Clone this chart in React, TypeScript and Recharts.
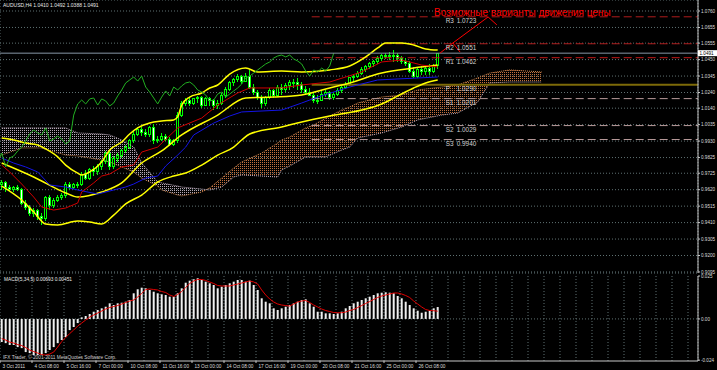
import React from 'react';
import {
  ComposedChart, Bar, Line, Area, XAxis, YAxis, CartesianGrid, ReferenceLine, ReferenceDot,
} from 'recharts';

// ---------------- DATA ----------------
const SYMBOL = 'AUDUSD,H4';
const TIME_LABELS = [
  '3 Oct 2011', '4 Oct 08:00', '5 Oct 16:00', '7 Oct 00:00', '10 Oct 08:00', '11 Oct 16:00',
  '13 Oct 00:00', '14 Oct 08:00', '17 Oct 16:00', '19 Oct 00:00', '20 Oct 08:00', '21 Oct 16:00',
  '25 Oct 00:00', '26 Oct 08:00',
];
const TIME_LABEL_STEP = 8; // bars between time labels

// OHLC, price x 10 000
const OPEN = [
  9650, 9663, 9631, 9624, 9637, 9618, 9535, 9509, 9471, 9490,
  9452, 9439, 9567, 9516, 9554, 9573, 9586, 9656, 9637, 9650,
  9656, 9714, 9694, 9746, 9733, 9771, 9797, 9854, 9765, 9822,
  9835, 9867, 9892, 9931, 9975, 10001, 9982, 9969, 10014, 9931,
  9943, 9962, 9943, 9911, 9931, 10096, 10167, 10192, 10167, 10199,
  10205, 10160, 10199, 10186, 10154, 10173, 10218, 10256, 10301, 10320,
  10339, 10313, 10345, 10275, 10243, 10205, 10167, 10211, 10250, 10218,
  10275, 10256, 10282, 10301, 10307, 10288, 10256, 10243, 10224, 10186,
  10192, 10230, 10243, 10211, 10230, 10250, 10269, 10294, 10333, 10345,
  10364, 10384, 10403, 10422, 10435, 10460, 10473, 10479, 10467, 10479,
  10454, 10441, 10422, 10377, 10345, 10384, 10371, 10396, 10377, 10410,
];
const HIGH = [
  9682, 9675, 9650, 9643, 9650, 9631, 9554, 9522, 9503, 9497,
  9471, 9580, 9586, 9567, 9586, 9599, 9669, 9669, 9663, 9669,
  9733, 9746, 9758, 9771, 9784, 9809, 9867, 9867, 9835, 9854,
  9880, 9905, 9943, 10001, 10020, 10020, 10007, 10026, 10039, 9962,
  9982, 9975, 9956, 9943, 10116, 10186, 10205, 10211, 10205, 10218,
  10218, 10211, 10211, 10199, 10192, 10237, 10275, 10313, 10333, 10358,
  10352, 10364, 10384, 10294, 10256, 10224, 10218, 10269, 10262, 10288,
  10294, 10301, 10320, 10326, 10333, 10307, 10282, 10269, 10243, 10224,
  10250, 10256, 10250, 10243, 10269, 10282, 10307, 10339, 10358, 10377,
  10403, 10415, 10435, 10447, 10473, 10486, 10492, 10498, 10511, 10492,
  10473, 10460, 10441, 10403, 10396, 10409, 10415, 10422, 10422, 10492,
];
const LOW = [
  9618, 9605, 9612, 9605, 9612, 9522, 9490, 9452, 9446, 9427,
  9395, 9420, 9490, 9503, 9541, 9554, 9567, 9618, 9624, 9631,
  9643, 9682, 9682, 9707, 9714, 9746, 9784, 9746, 9752, 9797,
  9822, 9854, 9880, 9918, 9962, 9962, 9956, 9956, 9911, 9918,
  9931, 9931, 9899, 9899, 9918, 10084, 10154, 10154, 10160, 10173,
  10141, 10154, 10154, 10128, 10135, 10160, 10205, 10250, 10282, 10307,
  10294, 10307, 10262, 10224, 10192, 10141, 10154, 10199, 10205, 10211,
  10224, 10243, 10256, 10269, 10256, 10237, 10224, 10218, 10173, 10167,
  10186, 10211, 10192, 10192, 10218, 10237, 10262, 10282, 10307, 10333,
  10352, 10371, 10390, 10403, 10422, 10441, 10454, 10447, 10435, 10435,
  10422, 10409, 10364, 10333, 10333, 10352, 10352, 10352, 10364, 10388,
];
const CLOSE = [
  9663, 9631, 9624, 9637, 9618, 9535, 9509, 9471, 9490, 9452,
  9439, 9567, 9516, 9554, 9573, 9586, 9656, 9637, 9650, 9656,
  9714, 9694, 9746, 9733, 9771, 9797, 9854, 9765, 9822, 9835,
  9867, 9892, 9931, 9975, 10001, 9982, 9969, 10014, 9931, 9943,
  9962, 9943, 9911, 9931, 10096, 10167, 10192, 10167, 10199, 10205,
  10160, 10199, 10186, 10154, 10173, 10218, 10256, 10301, 10320, 10339,
  10313, 10345, 10275, 10243, 10205, 10167, 10211, 10250, 10218, 10275,
  10256, 10282, 10301, 10307, 10288, 10256, 10243, 10224, 10186, 10192,
  10230, 10243, 10211, 10230, 10250, 10269, 10294, 10333, 10345, 10364,
  10384, 10403, 10422, 10435, 10460, 10473, 10479, 10467, 10479, 10454,
  10441, 10422, 10377, 10345, 10384, 10371, 10396, 10377, 10409, 10491,
];

// Indicator lines: [bar, price x 10 000]
const TENKAN_PTS: [number, number][] = [
  [0, 9777], [2, 9733], [5, 9656], [8, 9573], [10, 9509], [13, 9490], [16, 9503], [19, 9535],
  [20, 9605], [23, 9663], [25, 9707], [27, 9720], [30, 9765], [33, 9777], [35, 9860], [39, 9892],
  [44, 10014], [50, 10077], [54, 10160], [59, 10237], [62, 10269], [70, 10269], [75, 10288],
  [82, 10307], [90, 10371], [95, 10435], [100, 10447], [102, 10435], [105, 10415], [109, 10403],
];
const KIJUN_PTS: [number, number][] = [
  [0, 9822], [3, 9790], [6, 9765], [9, 9733], [12, 9650], [16, 9637], [19, 9618], [24, 9592],
  [28, 9618], [31, 9637], [33, 9656], [36, 9694], [39, 9707], [41, 9771], [44, 9841], [46, 9892],
  [48, 9969], [53, 10045], [57, 10090], [60, 10116], [70, 10128], [75, 10173], [79, 10211],
  [87, 10275], [94, 10320], [109, 10339],
];
const BB_UPPER_PTS: [number, number][] = [
  [0, 9950], [3, 9937], [6, 9918], [9, 9905], [11, 9880], [14, 9829], [16, 9777], [19, 9726],
  [20, 9714], [22, 9733], [25, 9797], [27, 9873], [30, 9924], [32, 9975], [34, 10014], [37, 10045],
  [40, 10058], [43, 10065], [44, 10084], [45, 10160], [47, 10211], [50, 10237], [52, 10269],
  [54, 10288], [57, 10358], [61, 10396], [64, 10371], [70, 10377], [75, 10371], [82, 10384],
  [87, 10409], [91, 10467], [94, 10524], [96, 10556], [100, 10556], [103, 10543], [106, 10518],
  [109, 10511],
];
const BB_MID_PTS: [number, number][] = [
  [0, 9790], [8, 9701], [16, 9599], [19, 9573], [25, 9605], [30, 9663], [35, 9790], [40, 9867],
  [45, 9969], [54, 10096], [61, 10205], [68, 10211], [75, 10224], [82, 10269], [87, 10301],
  [95, 10364], [103, 10396], [109, 10415],
];
const BB_LOWER_PTS: [number, number][] = [
  [0, 9643], [5, 9554], [8, 9478], [11, 9401], [14, 9395], [19, 9420], [22, 9414], [25, 9401],
  [28, 9458], [31, 9529], [35, 9586], [39, 9669], [43, 9707], [46, 9726], [50, 9777], [54, 9841],
  [58, 9892], [60, 9937], [62, 9975], [70, 10020], [75, 10052], [82, 10090], [90, 10128],
  [95, 10167], [99, 10218], [103, 10269], [106, 10301], [109, 10320],
];
const CHIKOU_SHIFT = 26;

// Ichimoku cloud (projected 26 bars ahead), price x 10 000
const CLOUD_BARS = [0, 5, 10, 16, 19, 25, 27, 30, 33, 35, 39, 40, 44, 45, 50, 52, 55, 58, 60, 65, 69, 70, 72, 76, 78, 81, 85, 87, 89, 95, 100, 104, 110, 114, 119, 122, 127, 135];
const SPAN_A = [9841, 9886, 9886, 9841, 9835, 9809, 9797, 9765, 9733, 9694, 9643, 9618, 9586, 9580, 9605, 9631, 9694, 9758, 9797, 9854, 9918, 9937, 9956, 10014, 10033, 10077, 10128, 10148, 10173, 10211, 10224, 10256, 10275, 10288, 10333, 10364, 10384, 10371];
const SPAN_B = [10014, 10014, 10014, 10014, 9982, 9975, 9969, 9937, 9892, 9790, 9669, 9663, 9643, 9637, 9624, 9618, 9637, 9701, 9714, 9707, 9701, 9746, 9771, 9829, 9829, 9829, 9873, 9892, 9950, 9982, 10020, 10065, 10096, 10109, 10179, 10301, 10307, 10307];

const PRICE_TICKS = [1.076, 1.0655, 1.0555, 1.045, 1.0345, 1.024, 1.014, 1.0035, 0.993, 0.9825, 0.9725, 0.962, 0.9515, 0.941, 0.9305, 0.92, 0.9095];

const PIVOT_NAMES = ['R3', 'R2', 'R1', 'P', 'S1', 'S2', 'S3'];
const PIVOT_VALUES = [1.0723, 1.0551, 1.0462, 1.029, 1.0201, 1.0029, 0.994];
const PIVOT_START_BAR = 78;
const PIVOT_LABEL_BAR = 111;

const NOTE_TEXT = 'Возможные варианты движения цены';
const NOTE_AT = { bar: 108.1, price: 1.0731 };
const NOTE_PATHS: [number, number][][] = [
  [[109.6, 1.0492], [112.8, 1.0556], [114.6, 1.0498]],
  [[112.8, 1.0556], [121.6, 1.0722], [123.8, 1.0671]],
];

// MACD(5,34,5), values x 0.001
const MACD_HIST = [
  -13.5, -14.1, -15.2, -15.2, -16.4, -17.0, -19.3, -19.9, -21.0, -21.0,
  -21.0, -19.9, -18.1, -16.4, -14.1, -12.3, -10.6, -6.5, -4.7, -2.4,
  0.93, 1.69, 2.86, 4.2, 5.19, 6.18, 7.11, 9.09, 8.1, 9.09,
  9.44, 10.03, 11.02, 14.92, 17.26, 18.19, 17.84, 16.85, 15.86, 14.92,
  14.34, 13.93, 12.94, 12.94, 14.92, 17.84, 21.1, 22.27, 23.09, 23.67,
  22.68, 21.69, 20.75, 19.76, 17.84, 18.77, 19.76, 20.75, 21.69, 22.68,
  22.68, 21.69, 22.27, 19.76, 16.85, 12.01, 10.03, 9.09, 6.18, 5.19,
  6.18, 7.11, 8.1, 9.09, 10.03, 11.02, 11.43, 9.09, 7.11, 4.2,
  4.2, 3.26, 3.26, 2.86, 3.26, 4.2, 6.18, 7.52, 9.09, 10.03,
  11.02, 12.01, 12.94, 13.93, 14.92, 15.27, 15.51, 15.27, 14.92, 13.35,
  12.01, 10.03, 8.1, 6.18, 4.78, 3.61, 4.2, 4.78, 6.18, 6.93,
];
const MACD_SIGNAL = [
  -11.43, -12.3, -13.47, -14.05, -14.92, -15.51, -16.67, -18.13, -19.01, -19.88,
  -20.75, -21.05, -20.46, -19.3, -16.38, -13.18, -10.84, -8.51, -6.47, -4.14,
  -2.39, -0.64, 1.11, 2.27, 3.44, 4.61, 5.77, 6.65, 7.23, 7.81,
  8.69, 9.56, 10.44, 11.02, 12.77, 14.81, 17.14, 17.43, 17.14, 16.85,
  15.97, 15.39, 13.93, 13.06, 14.23, 15.97, 18.31, 20.64, 22.1, 22.97,
  22.97, 22.39, 21.51, 20.64, 19.47, 19.18, 19.18, 19.18, 19.76, 20.35,
  20.93, 21.51, 22.1, 21.51, 20.35, 16.85, 13.93, 11.6, 9.85, 8.69,
  8.1, 7.81, 7.52, 8.69, 9.85, 10.44, 10.73, 9.56, 8.1, 6.94,
  5.77, 4.9, 4.31, 3.73, 3.61, 3.61, 4.02, 4.9, 5.48, 6.65,
  7.81, 8.98, 10.14, 11.31, 12.48, 13.35, 13.93, 14.52, 15.1, 15.1,
  14.52, 13.64, 12.48, 10.44, 8.69, 6.94, 5.48, 4.9, 4.78, 4.51,
];
const MACD_TICKS = [0.025, 0, -0.024];
const MACD_TICK_LABELS = ['0.025', '0.00', '-0.024'];
const COPYRIGHT = 'IFX Trader, © 2001-2011 MetaQuotes Software Corp.';

// ---------------- LAYOUT ----------------
const W = 717;
const AXIS_W = 19;
const X_MIN = -0.425;
const X_MAX = 174.075;
const Y_MIN = 0.90884;
const Y_MAX = 1.08302;
const GRID_SHIFT = -0.425;
const GRID_TICKS = Array.from({ length: 44 }, (_, k) => 4 * k + GRID_SHIFT);
const FONT = 'Liberation Sans, Arial, sans-serif';

// ---------------- BUILD TABLES ----------------
const P = (v: number) => v / 10000;
const candleRows = OPEN.map((o, i) => ({ i, o: P(o), h: P(HIGH[i]), l: P(LOW[i]), c: P(CLOSE[i]) }));
const toPts = (arr: [number, number][]) => arr.map(([i, v]) => ({ i, v: P(v) }));
const chikouData = CLOSE.map((c, k) => ({ i: k - CHIKOU_SHIFT, v: P(c) })).filter((d) => d.i >= -1);
const cloudRows = CLOUD_BARS.map((b, k) => ({ i: b, a: P(SPAN_A[k]), b: P(SPAN_B[k]) }));
const isDown = (r: { a: number; b: number }) => r.b >= r.a;
const thistleRows = cloudRows
  .filter((r, k) => isDown(r) || (k > 0 && isDown(cloudRows[k - 1])))
  .map((r) => ({ i: r.i, r: [r.a, r.b] }));
const sandyRows = cloudRows
  .filter((r, k) => !isDown(r) || (k + 1 < cloudRows.length && !isDown(cloudRows[k + 1])))
  .map((r) => ({ i: r.i, r: [r.a, r.b] }));
const macdRows = MACD_HIST.map((m, i) => ({ i, macd: m / 1000, signal: MACD_SIGNAL[i] / 1000 }));
const last = OPEN.length - 1;
const lastClose = P(CLOSE[last]);
const title = `${SYMBOL}  ${P(OPEN[last]).toFixed(4)} ${P(HIGH[last]).toFixed(4)} ${P(LOW[last]).toFixed(4)} ${lastClose.toFixed(4)}`;
const macdTitle = `MACD(5,34,5) ${(MACD_HIST[last] / 1000).toFixed(5)} ${(MACD_SIGNAL[last] / 1000).toFixed(5)}`;

const pivotStyle = (name: string) => {
  if (name === 'P') return { stroke: '#7d6a08', strokeWidth: 2, strokeDasharray: undefined };
  if (name[0] === 'R') return { stroke: name === 'R1' ? '#c41818' : '#b01c1c', strokeWidth: 1, strokeDasharray: '8 4' };
  return { stroke: '#b89a9a', strokeWidth: 1, strokeDasharray: '8 4' };
};

// ---------------- SHAPES ----------------
const Candle = (props: any) => {
  const { x, y, width, height, payload } = props;
  if (!payload || payload.o == null || x == null) return null;
  const { o, h, l, c } = payload;
  const top = Math.min(y, y + height);
  const bot = Math.max(y, y + height);
  const span = h - l || 1e-9;
  const yOf = (v: number) => top + ((h - v) / span) * (bot - top);
  const cx = Math.floor(x + width / 2) + 0.5;
  const yo = yOf(o);
  const yc = yOf(c);
  const bTop = Math.min(yo, yc);
  const bH = Math.max(1, Math.abs(yo - yc));
  const bull = c >= o;
  return (
    <g shapeRendering="crispEdges">
      <line x1={cx} x2={cx} y1={top} y2={bot} stroke="#00ff00" strokeWidth={1} />
      <rect x={cx - 1} y={bTop} width={2} height={bH} fill={bull ? '#000000' : '#ffffff'} stroke="#00ff00" strokeWidth={1} />
    </g>
  );
};

const TimeTick = (props: any) => {
  const { x, y, payload } = props;
  const bar = Math.round(payload.value - GRID_SHIFT);
  const idx = bar / TIME_LABEL_STEP;
  if (!Number.isInteger(idx) || idx >= TIME_LABELS.length) return <g />;
  return (
    <g>
      <line x1={x} x2={x} y1={y} y2={y + 2} stroke="#c8c8c8" />
      <text x={x + 2.5} y={y + 7} fontSize={4.7} fill="#dcdcdc" fontFamily={FONT}>{TIME_LABELS[idx]}</text>
    </g>
  );
};

const lineProps = { dot: false, activeDot: false, isAnimationActive: false } as const;

export default function App() {
  return (
    <div style={{ position: 'absolute', left: 0, top: 0, width: W, height: 370, background: '#000', overflow: 'hidden' }}>
      <div style={{ position: 'absolute', left: 0, top: 0 }}>
        <ComposedChart width={W} height={275} data={candleRows} margin={{ top: 0, right: 0, bottom: 2, left: 0 }}>
          <defs>
            <pattern id="kumoUp" width="2" height="2" patternUnits="userSpaceOnUse">
              <rect x="0" y="0" width="1" height="1" fill="#bf6f3e" />
            </pattern>
            <pattern id="kumoDown" width="2" height="2" patternUnits="userSpaceOnUse">
              <rect x="0" y="0" width="1" height="1" fill="#b3a6b3" />
            </pattern>
          </defs>
          <CartesianGrid stroke="#5f7172" strokeDasharray="1 2" />
          <XAxis dataKey="i" type="number" domain={[X_MIN, X_MAX]} allowDataOverflow ticks={GRID_TICKS}
            height={0} tick={false} tickLine={false} axisLine={{ stroke: '#b4b4b4', strokeWidth: 2 }} />
          <YAxis orientation="right" width={AXIS_W} type="number" domain={[Y_MIN, Y_MAX]} allowDataOverflow
            ticks={PRICE_TICKS} interval={0} tickFormatter={(v: number) => v.toFixed(4)}
            tick={{ fontSize: 4.6, fill: '#dcdcdc', fontFamily: FONT }} tickSize={2} tickMargin={1}
            tickLine={{ stroke: '#c8c8c8' }} axisLine={{ stroke: '#c8c8c8' }} />

          <Area data={thistleRows} dataKey="r" type="linear" stroke="none" fill="url(#kumoDown)" fillOpacity={1} {...lineProps} />
          <Area data={sandyRows} dataKey="r" type="linear" stroke="none" fill="url(#kumoUp)" fillOpacity={1} {...lineProps} />
          <Line data={cloudRows} dataKey="a" type="linear" stroke="#d08850" strokeDasharray="1 1" {...lineProps} />
          <Line data={cloudRows} dataKey="b" type="linear" stroke="#c0aec0" strokeDasharray="1 1" {...lineProps} />

          {PIVOT_NAMES.map((n, k) => {
            const s = pivotStyle(n);
            return (
              <ReferenceLine key={n} segment={[{ x: PIVOT_START_BAR - 0.5, y: PIVOT_VALUES[k] }, { x: X_MAX, y: PIVOT_VALUES[k] }]}
                stroke={s.stroke} strokeWidth={s.strokeWidth} strokeDasharray={s.strokeDasharray} />
            );
          })}

          <Line data={toPts(BB_UPPER_PTS)} dataKey="v" type="monotone" stroke="#ffff00" strokeWidth={1.5} {...lineProps} />
          <Line data={toPts(BB_MID_PTS)} dataKey="v" type="monotone" stroke="#ffff00" strokeWidth={1.5} {...lineProps} />
          <Line data={toPts(BB_LOWER_PTS)} dataKey="v" type="monotone" stroke="#ffff00" strokeWidth={1.5} {...lineProps} />
          <Line data={toPts(KIJUN_PTS)} dataKey="v" type="linear" stroke="#1414e6" strokeWidth={1} {...lineProps} />
          <Line data={toPts(TENKAN_PTS)} dataKey="v" type="linear" stroke="#d00000" strokeWidth={1} {...lineProps} />
          <Line data={chikouData} dataKey="v" type="linear" stroke="#22b022" strokeWidth={1} {...lineProps} />

          <Bar dataKey={(d: any) => [d.l, d.h]} barSize={3} shape={<Candle />} isAnimationActive={false} activeBar={false} />

          <ReferenceLine y={lastClose} stroke="#8696a6" strokeWidth={1} />
          <ReferenceDot x={X_MAX} y={lastClose} r={1} ifOverflow="visible"
            shape={(p: any) => (
              <g>
                <rect x={p.cx} y={p.cy - 3} width={AXIS_W} height={6} fill="#ffffff" />
                <text x={p.cx + 1.5} y={p.cy + 1.7} fontSize={4.6} fill="#000" fontFamily={FONT}>{lastClose.toFixed(4)}</text>
              </g>
            )} />

          {PIVOT_NAMES.map((n, k) => (
            <ReferenceDot key={'lbl' + n} x={PIVOT_LABEL_BAR} y={PIVOT_VALUES[k]} r={1}
              shape={(p: any) => (
                <g>
                  <text x={p.cx} y={p.cy + 6.5} fontSize={6.4} fill="#d2d2d2" fontFamily={FONT}>{n}</text>
                  <text x={p.cx + 11} y={p.cy + 6.5} fontSize={6.4} fill="#d2d2d2" fontFamily={FONT}>{PIVOT_VALUES[k].toFixed(4)}</text>
                </g>
              )} />
          ))}

          {NOTE_PATHS.flatMap((path, pi) => path.slice(1).map((pt, k) => (
            <ReferenceLine key={`arr${pi}-${k}`} segment={[{ x: path[k][0], y: path[k][1] }, { x: pt[0], y: pt[1] }]} stroke="#ff0000" strokeWidth={1} />
          )))}
          <ReferenceDot x={NOTE_AT.bar} y={NOTE_AT.price} r={1}
            shape={(p: any) => (
              <text x={p.cx} y={p.cy} fontSize={10} fill="#ff0000" fontFamily={FONT}>{NOTE_TEXT}</text>
            )} />
        </ComposedChart>
      </div>

      <div style={{ position: 'absolute', left: 0, top: 273 }}>
        <ComposedChart width={W} height={97} data={macdRows} margin={{ top: 3, right: 0, bottom: 0, left: 0 }}>
          <CartesianGrid stroke="#5f7172" strokeDasharray="1 2" horizontalValues={[0]} />
          <XAxis dataKey="i" type="number" domain={[X_MIN, X_MAX]} allowDataOverflow ticks={GRID_TICKS}
            height={9} tick={<TimeTick />} tickSize={0} tickMargin={0} tickLine={false} interval={0}
            axisLine={{ stroke: '#c8c8c8' }} />
          <YAxis orientation="right" width={AXIS_W} type="number" domain={[-0.0245, 0.025]} allowDataOverflow
            ticks={MACD_TICKS} interval={0}
            tickFormatter={(v: number) => MACD_TICK_LABELS[MACD_TICKS.indexOf(v)] ?? ''}
            tick={{ fontSize: 4.6, fill: '#dcdcdc', fontFamily: FONT }} tickSize={2} tickMargin={1}
            tickLine={{ stroke: '#c8c8c8' }} axisLine={{ stroke: '#c8c8c8' }} />
          <Bar dataKey="macd" barSize={2} fill="#f0f0f0" isAnimationActive={false} activeBar={false} />
          <Line dataKey="signal" type="linear" stroke="#e00000" strokeWidth={1} {...lineProps} />
        </ComposedChart>
      </div>

      <svg width={W} height={370} style={{ position: 'absolute', left: 0, top: 0, pointerEvents: 'none' }}>
        <text x={3} y={7} fontSize={5} fill="#e8e8e8" fontFamily={FONT}>{title}</text>
        <text x={4} y={280.5} fontSize={4.8} fill="#e8e8e8" fontFamily={FONT}>{macdTitle}</text>
        <text x={3} y={359} fontSize={4.8} fill="#cfcfcf" fontFamily={FONT}>{COPYRIGHT}</text>
      </svg>
    </div>
  );
}
